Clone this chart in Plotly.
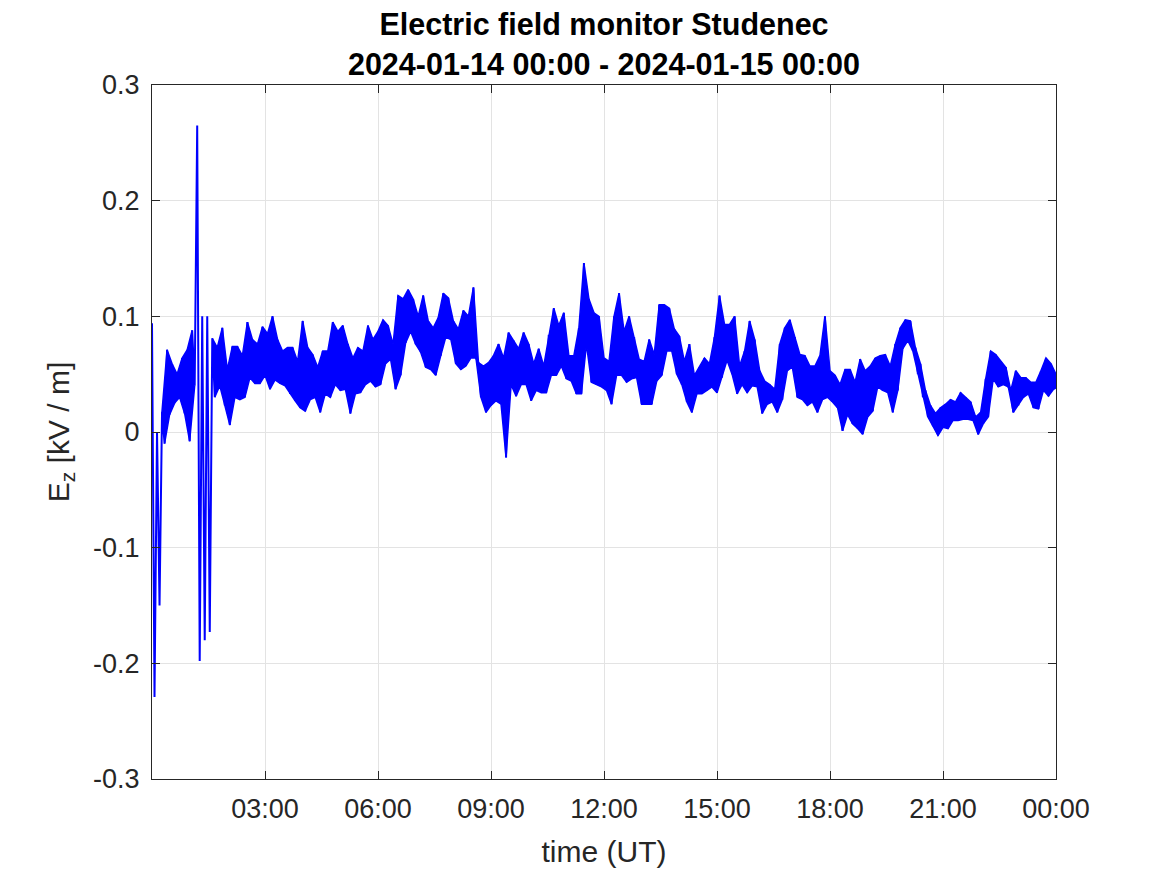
import pandas as pd
import plotly.graph_objects as go

# Ez envelope: upper / lower value in each 8-minute bin (kV/m),
# bins start at 2024-01-14 00:00
ez_hi = [0.094, 0.0, 0.018, 0.071, 0.059, 0.05, 0.064, 0.071, 0.088, 0.265,
         0.1, 0.1, 0.081, 0.073, 0.09, 0.054, 0.074, 0.074, 0.066, 0.095,
         0.08, 0.076, 0.091, 0.085, 0.1, 0.08, 0.07, 0.073,
         # 03:44 -
         0.073, 0.061, 0.096, 0.073, 0.067, 0.056, 0.07, 0.07, 0.095, 0.087,
         0.092, 0.076, 0.064, 0.073, 0.07, 0.092, 0.08, 0.087, 0.097, 0.092,
         0.076, 0.118, 0.115, 0.123, 0.115, 0.1, 0.118, 0.096, 0.09, 0.099,
         0.12, 0.116, 0.096, 0.089, 0.105, 0.1, 0.125, 0.06, 0.057, 0.06,
         0.066, 0.076, 0.064, 0.086,
         # 09:36 -
         0.079, 0.072, 0.086, 0.076, 0.059, 0.072, 0.057, 0.084, 0.107, 0.092,
         0.103, 0.066, 0.066, 0.09, 0.146, 0.115, 0.103, 0.1, 0.064, 0.061,
         0.1, 0.12, 0.087, 0.1, 0.082, 0.063, 0.061, 0.08, 0.067, 0.11,
         0.11, 0.107, 0.089, 0.083, 0.061, 0.076, 0.049, 0.056, 0.064, 0.059,
         0.082,
         # 15:04 -
         0.118, 0.093, 0.093, 0.1, 0.057, 0.07, 0.096, 0.08, 0.053, 0.044,
         0.041, 0.037, 0.076, 0.09, 0.097, 0.082, 0.067, 0.066, 0.057, 0.057,
         0.066, 0.1, 0.053, 0.049, 0.041, 0.054, 0.054, 0.043, 0.063, 0.053,
         0.057, 0.064, 0.066, 0.067, 0.057, 0.076, 0.09, 0.097,
         # 20:08 -
         0.096, 0.073, 0.059, 0.036, 0.023, 0.016, 0.021, 0.024, 0.028, 0.026,
         0.034, 0.03, 0.026, 0.013, 0.017, 0.046, 0.07, 0.067, 0.061, 0.056,
         0.036, 0.053, 0.047, 0.047, 0.043, 0.043, 0.053, 0.064, 0.059, 0.05]

ez_lo = [-0.229, -0.15, -0.01, 0.015, 0.025, 0.03, 0.016, -0.008, 0.04, -0.198,
         -0.18, -0.173, 0.03, 0.04, 0.023, 0.006, 0.03, 0.028, 0.03, 0.047,
         0.042, 0.042, 0.049, 0.037, 0.045, 0.042, 0.04, 0.033,
         # 03:44 -
         0.027, 0.021, 0.018, 0.028, 0.03, 0.017, 0.033, 0.03, 0.041, 0.036,
         0.037, 0.016, 0.033, 0.034, 0.041, 0.044, 0.039, 0.041, 0.059, 0.063,
         0.037, 0.049, 0.077, 0.087, 0.076, 0.069, 0.056, 0.054, 0.049, 0.066,
         0.082, 0.08, 0.059, 0.054, 0.057, 0.064, 0.064, 0.03, 0.017, 0.023,
         0.027, 0.024, -0.022, 0.041,
         # 09:36 -
         0.031, 0.041, 0.041, 0.027, 0.036, 0.034, 0.034, 0.049, 0.049, 0.057,
         0.046, 0.044, 0.033, 0.033, 0.076, 0.043, 0.041, 0.039, 0.036, 0.024,
         0.049, 0.049, 0.043, 0.046, 0.047, 0.024, 0.024, 0.024, 0.044, 0.049,
         0.07, 0.07, 0.05, 0.041, 0.026, 0.017, 0.033, 0.033, 0.036, 0.039,
         0.034,
         # 15:04 -
         0.047, 0.062, 0.05, 0.033, 0.041, 0.034, 0.04, 0.039, 0.016, 0.024,
         0.026, 0.017, 0.028, 0.053, 0.056, 0.03, 0.028, 0.023, 0.026, 0.017,
         0.028, 0.03, 0.026, 0.021, 0.001, 0.015, 0.007, 0.003, -0.002, 0.013,
         0.018, 0.039, 0.036, 0.034, 0.017, 0.036, 0.072, 0.079,
         # 20:08 -
         0.07, 0.05, 0.03, 0.013, 0.005, -0.003, 0.004, 0.003, 0.01, 0.01,
         0.011, 0.011, 0.01, -0.002, 0.007, 0.013, 0.046, 0.039, 0.041, 0.039,
         0.017, 0.023, 0.03, 0.033, 0.021, 0.02, 0.036, 0.031, 0.037, 0.039]

# bin ranges where the dense noise forms a continuous band (the big
# excursions at the start and the 01:12-01:36 burst are drawn as a bare trace)
band_ranges = [(2, 9), (12, len(ez_hi))]

bin_start = pd.date_range("2024-01-14 00:00", periods=len(ez_hi), freq="8min")
t_hi = bin_start
t_lo = bin_start + pd.Timedelta(minutes=4)

# sequence of the measured trace (alternating upper / lower excursions)
t_trace = [t for pair in zip(t_hi, t_lo) for t in pair]
ez_trace = [v for pair in zip(ez_hi, ez_lo) for v in pair]

x_tick_vals = ["2024-01-14 03:00", "2024-01-14 06:00", "2024-01-14 09:00",
               "2024-01-14 12:00", "2024-01-14 15:00", "2024-01-14 18:00",
               "2024-01-14 21:00", "2024-01-15 00:00"]
x_tick_text = ["03:00", "06:00", "09:00", "12:00", "15:00", "18:00", "21:00", "00:00"]
y_tick_vals = [0.3, 0.2, 0.1, 0, -0.1, -0.2, -0.3]
y_tick_text = ["0.3", "0.2", "0.1", "0", "-0.1", "-0.2", "-0.3"]

font_family = "Liberation Sans, Arial, Helvetica, sans-serif"
axis_color = "#262626"
grid_color = "#e3e3e3"
blue = "#0000ff"

fig = go.Figure()
for a, b in band_ranges:
    fig.add_trace(go.Scatter(x=t_hi[a:b], y=ez_hi[a:b], mode="lines",
                             line=dict(color=blue, width=1.5), showlegend=False,
                             hoverinfo="skip"))
    fig.add_trace(go.Scatter(x=t_lo[a:b], y=ez_lo[a:b], mode="lines",
                             fill="tonexty", fillcolor=blue,
                             line=dict(color=blue, width=1.5),
                             showlegend=False, hoverinfo="skip"))
fig.add_trace(go.Scatter(x=t_trace, y=ez_trace, mode="lines",
                         line=dict(color=blue, width=2), showlegend=False,
                         name="Ez"))

fig.update_layout(
    width=1159, height=867,
    paper_bgcolor="white", plot_bgcolor="white",
    margin=dict(l=144, r=111, t=77, b=96),
    font=dict(family=font_family, size=27, color=axis_color),
    title=dict(
        text="<b>Electric field monitor Studenec</b><br><b>2024-01-14 00:00 - 2024-01-15 00:00</b>",
        xref="paper", x=0.5, xanchor="center",
        yref="container", y=0.969, yanchor="top",
        font=dict(family=font_family, size=30.5, color="black"),
    ),
)
fig.update_xaxes(
    type="date",
    range=["2024-01-14 00:00", "2024-01-15 00:00"],
    tickmode="array", tickvals=x_tick_vals, ticktext=x_tick_text,
    ticks="inside", ticklen=8, tickcolor=axis_color, tickwidth=1,
    showline=True, linecolor=axis_color, linewidth=1.3, mirror="ticks",
    showgrid=True, gridcolor=grid_color, gridwidth=1, zeroline=False,
    tickfont=dict(size=27, color=axis_color), ticklabelstandoff=5,
    title=dict(text="time (UT)", font=dict(size=30, color=axis_color), standoff=18),
)
fig.update_yaxes(
    range=[-0.3, 0.3],
    tickmode="array", tickvals=y_tick_vals, ticktext=y_tick_text,
    ticks="inside", ticklen=8, tickcolor=axis_color, tickwidth=1,
    showline=True, linecolor=axis_color, linewidth=1.3, mirror="ticks",
    showgrid=True, gridcolor=grid_color, gridwidth=1, zeroline=False,
    tickfont=dict(size=27, color=axis_color), ticklabelstandoff=6,
    title=dict(text="E<sub>z</sub> [kV / m]", font=dict(size=30, color=axis_color), standoff=14),
)

fig.write_html("out.html")
